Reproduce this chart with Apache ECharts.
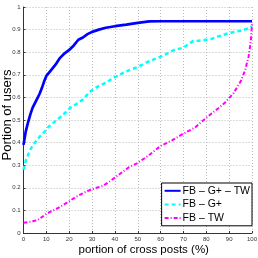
<!DOCTYPE html>
<html><head><meta charset="utf-8">
<script src="https://cdn.jsdelivr.net/npm/echarts@6/dist/echarts.min.js"></script>
<style>html,body{margin:0;padding:0;background:#fff}#c{width:258px;height:258px}</style>
</head><body><div id="c"></div>
<script>
var seriesNames = ['FB – G+ – TW', 'FB – G+', 'FB – TW'];
var xTicks = [0,10,20,30,40,50,60,70,80,90,100];
var yTicks = [0,0.1,0.2,0.3,0.4,0.5,0.6,0.7,0.8,0.9,1];
var blueX = [0,1,2,3,4,5,6,7,8,9,10,12,14,16,18,20,22,24,26,28,30,33,36,40,45,50,55,60,70,80,90,100];
var blueY = [0.39,0.45,0.49,0.525,0.555,0.575,0.595,0.615,0.64,0.67,0.695,0.72,0.745,0.775,0.795,0.81,0.83,0.855,0.865,0.88,0.89,0.9,0.908,0.915,0.922,0.93,0.936,0.937,0.937,0.937,0.937,0.937];
var cyanX = [0,1,2,3,4,5,7,9,11,14,17,20,23,26,29,32,36,40,45,50,55,60,63,66,70,74,78,82,86,90,95,99,100];
var cyanY = [0.28,0.32,0.345,0.37,0.385,0.4,0.425,0.445,0.47,0.495,0.52,0.55,0.57,0.59,0.625,0.645,0.665,0.69,0.715,0.735,0.76,0.78,0.795,0.81,0.82,0.848,0.852,0.858,0.872,0.885,0.895,0.907,0.915];
var magX = [0,3,6,8,10,15,19,23,28,32,35,38,42,46,50,55,60,65,70,75,80,85,88,92,95,97,98.5,99.5,100];
var magY = [0.045,0.05,0.056,0.07,0.085,0.11,0.134,0.16,0.186,0.2,0.21,0.23,0.26,0.29,0.31,0.345,0.385,0.41,0.44,0.466,0.51,0.55,0.575,0.62,0.67,0.72,0.78,0.85,0.93];
function pairs(xs, ys){ return xs.map(function(x,i){return [x, ys[i]];}); }
var F = 'Liberation Sans, Arial, sans-serif';
var chart = echarts.init(document.getElementById('c'), null, {renderer:'canvas'});
chart.setOption({
  animation:false,
  backgroundColor:'#fff',
  grid:{left:23.5, right:6, top:7, bottom:25, containLabel:false, outerBoundsMode:'none'},
  xAxis:{type:'value', min:0, max:100, interval:10,
    name:'portion of cross posts (%)', nameLocation:'middle', nameGap:11, nameMoveOverlap:false,
    nameTextStyle:{fontFamily:F, fontSize:11.5, color:'#000', padding:[0,0,0,12]},
    axisLine:{show:true, onZero:false, lineStyle:{color:'#333', width:1}},
    axisTick:{show:true, inside:true, length:2, lineStyle:{color:'#333'}},
    axisLabel:{fontFamily:F, fontSize:6, color:'#333', margin:3},
    splitLine:{show:true, lineStyle:{type:[1,2], color:'#bbb', width:1}}},
  yAxis:{type:'value', min:0, max:1, interval:0.1,
    name:'Portion of users', nameLocation:'middle', nameGap:10, nameMoveOverlap:false,
    nameTextStyle:{fontFamily:F, fontSize:13, color:'#000', padding:[0,0,0,10]},
    axisLine:{show:true, onZero:false, lineStyle:{color:'#333', width:1}},
    axisTick:{show:true, inside:true, length:2, lineStyle:{color:'#333'}},
    axisLabel:{fontFamily:F, fontSize:6, color:'#333', margin:3,
      formatter:function(v){ return String(Math.round(v*10)/10); }},
    splitLine:{show:true, lineStyle:{type:[1,2], color:'#bbb', width:1}}},
  legend:{show:true, orient:'vertical', right:6, top:183,
    backgroundColor:'#fff', borderColor:'#000', borderWidth:1, borderRadius:0,
    padding:[2,2,2,2], itemGap:2, itemWidth:16, itemHeight:12,
    itemStyle:{opacity:0},
    textStyle:{fontFamily:F, fontSize:10.5, color:'#000', padding:[0,0,0,-3]},
    data:seriesNames},
  series:[
    {name:seriesNames[0], type:'line', data:pairs(blueX,blueY), showSymbol:false, smooth:false,
      lineStyle:{color:'#0000ff', width:2.7}, itemStyle:{color:'#0000ff'}},
    {name:seriesNames[1], type:'line', data:pairs(cyanX,cyanY), showSymbol:false,
      lineStyle:{color:'#00ffff', width:2.5, type:[4,3]}, itemStyle:{color:'#00ffff'}},
    {name:seriesNames[2], type:'line', data:pairs(magX,magY), showSymbol:false,
      lineStyle:{color:'#ff00ff', width:2, type:[4,2,1,2]}, itemStyle:{color:'#ff00ff'}}
  ]
});
</script></body></html>
